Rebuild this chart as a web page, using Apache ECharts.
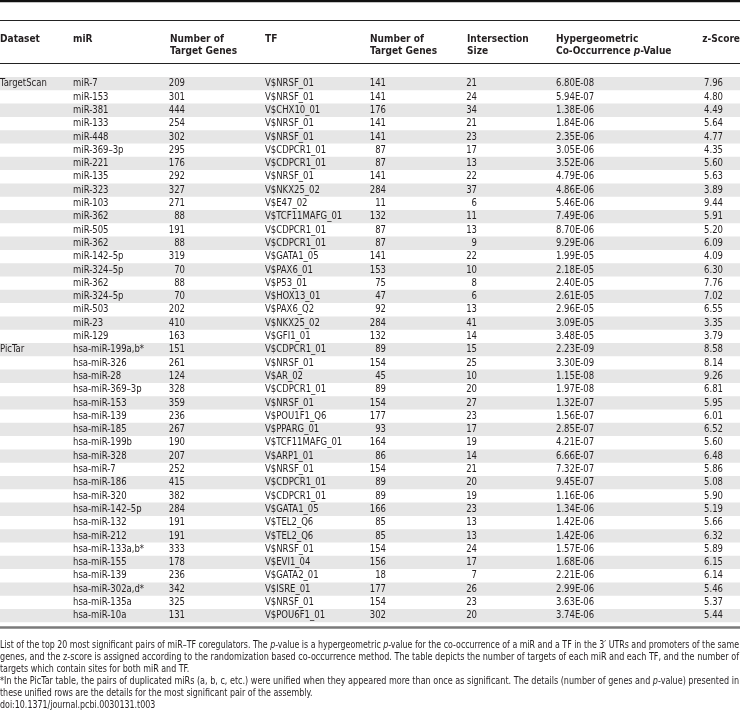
<!DOCTYPE html>
<html><head><meta charset="utf-8">
<script src="https://cdn.jsdelivr.net/npm/echarts@6/dist/echarts.min.js"></script>
<style>html,body{margin:0;padding:0;background:#fff}#c{width:740px;height:721px}</style>
</head><body><div id="c"></div>
<script>
// ---------------- DATA ----------------
const datasetLabels = ['TargetScan','','','','','','','','','','','','','','','','','','','',
  'PicTar','','','','','','','','','','','','','','','','','','','',''];
const mirs = ['miR-7','miR-153','miR-381','miR-133','miR-448','miR-369\u20133p','miR-221','miR-135','miR-323','miR-103',
  'miR-362','miR-505','miR-362','miR-142\u20135p','miR-324\u20135p','miR-362','miR-324\u20135p','miR-503','miR-23','miR-129',
  'hsa-miR-199a,b*','hsa-miR-326','hsa-miR-28','hsa-miR-369\u20133p','hsa-miR-153','hsa-miR-139','hsa-miR-185','hsa-miR-199b','hsa-miR-328','hsa-miR-7',
  'hsa-miR-186','hsa-miR-320','hsa-miR-142\u20135p','hsa-miR-132','hsa-miR-212','hsa-miR-133a,b*','hsa-miR-155','hsa-miR-139','hsa-miR-302a,d*','hsa-miR-135a','hsa-miR-10a'];
const mirTargets = [209,301,444,254,302,295,176,292,327,271,88,191,88,319,70,88,70,202,410,163,
  151,261,124,328,359,236,267,190,207,252,415,382,284,191,191,333,178,236,342,325,131];
const tfs = ['V$NRSF_01','V$NRSF_01','V$CHX10_01','V$NRSF_01','V$NRSF_01','V$CDPCR1_01','V$CDPCR1_01','V$NRSF_01','V$NKX25_02','V$E47_02',
  'V$TCF11MAFG_01','V$CDPCR1_01','V$CDPCR1_01','V$GATA1_05','V$PAX6_01','V$P53_01','V$HOX13_01','V$PAX6_Q2','V$NKX25_02','V$GFI1_01',
  'V$CDPCR1_01','V$NRSF_01','V$AR_02','V$CDPCR1_01','V$NRSF_01','V$POU1F1_Q6','V$PPARG_01','V$TCF11MAFG_01','V$ARP1_01','V$NRSF_01',
  'V$CDPCR1_01','V$CDPCR1_01','V$GATA1_05','V$TEL2_Q6','V$TEL2_Q6','V$NRSF_01','V$EVI1_04','V$GATA2_01','V$ISRE_01','V$NRSF_01','V$POU6F1_01'];
const tfTargets = [141,141,176,141,141,87,87,141,284,11,132,87,87,141,153,75,47,92,284,132,
  89,154,45,89,154,177,93,164,86,154,89,89,166,85,85,154,156,18,177,154,302];
const intersection = [21,24,34,21,23,17,13,22,37,6,11,13,9,22,10,8,6,13,41,14,
  15,25,10,20,27,23,17,19,14,21,20,19,23,13,13,24,17,7,26,23,20];
const pValues = ['6.80E-08','5.94E-07','1.38E-06','1.84E-06','2.35E-06','3.05E-06','3.52E-06','4.79E-06','4.86E-06','5.46E-06',
  '7.49E-06','8.70E-06','9.29E-06','1.99E-05','2.18E-05','2.40E-05','2.61E-05','2.96E-05','3.09E-05','3.48E-05',
  '2.23E-09','3.30E-09','1.15E-08','1.97E-08','1.32E-07','1.56E-07','2.85E-07','4.21E-07','6.66E-07','7.32E-07',
  '9.45E-07','1.16E-06','1.34E-06','1.42E-06','1.42E-06','1.57E-06','1.68E-06','2.21E-06','2.99E-06','3.63E-06','3.74E-06'];
const zScores = ['7.96','4.80','4.49','5.64','4.77','4.35','5.60','5.63','3.89','9.44','5.91','5.20','6.09','4.09','6.30','7.76','7.02','6.55','3.35','3.79',
  '8.58','8.14','9.26','6.81','5.95','6.01','6.52','5.60','6.48','5.86','5.08','5.90','5.19','5.66','6.32','5.89','6.15','6.14','5.46','5.37','5.44'];
const captionLines = [
  [['n','List of the top 20 most significant pairs of miR\u2013TF coregulators. The '],['i','p'],['n','-value is a hypergeometric '],['i','p'],['n','-value for the co-occurrence of a miR and a TF in the 3\u2032 UTRs and promoters of the same']],
  [['n','genes, and the z-score is assigned according to the randomization based co-occurrence method. The table depicts the number of targets of each miR and each TF, and the number of']],
  [['n','targets which contain sites for both miR and TF.']],
  [['n','*In the PicTar table, the pairs of duplicated miRs (a, b, c, etc.) were unified when they appeared more than once as significant. The details (number of genes and '],['i','p'],['n','-value) presented in']],
  [['n','these unified rows are the details for the most significant pair of the assembly.']],
  [['n','doi:10.1371/journal.pcbi.0030131.t003']]
];
const captionJustified = [true, true, false, true, false, false];

// ---------------- LAYOUT / STYLE ----------------
const mctx = document.createElement('canvas').getContext('2d');
function hasFont(f){const s='abcdefghijklmnopqrstuvwxyzABCDEFGHIJ0123456789';mctx.font='40px monospace';const a=mctx.measureText(s).width;mctx.font="40px '"+f+"', monospace";const b=mctx.measureText(s).width;return Math.abs(a-b)>0.5;}
let FAM, SX;
if (hasFont('Liberation Sans Narrow')) { FAM = "'Liberation Sans Narrow'"; SX = 1; }
else if (hasFont('DejaVu Sans Condensed')) { FAM = "'DejaVu Sans Condensed'"; SX = 0.9; }
else { FAM = "'Liberation Sans', Arial, sans-serif"; SX = 0.82; }
const W = 740, NROWS = mirs.length;
const ROW_TOP = 77, PITCH = 13.3;
const TXT = '#231f20', BAND = '#e6e6e6';
const FS = 10.5, HFS = 11.2, CFS = 9.8;
const COL = {ds:0, mir:73, mirT:185, tf:265, tfT:386, inter:477, p:556, z:723};
const HEAD = {num1:170, num2:370, inter:467};
const HEAD_Y1 = 39, HEAD_Y2 = 51;

const chart = echarts.init(document.getElementById('c'), null, {renderer:'canvas'});

function txt(x, y, text, opts) {
  opts = opts || {};
  return {type:'text', x:x, y:y, scaleX:SX, silent:true, z:10,
    style:Object.assign({text:text, fill:TXT, font:(opts.bold?'bold ':'')+(opts.size||FS)+'px '+FAM,
      align:opts.align||'left', verticalAlign:'middle', textAlign:opts.align||'left', textVerticalAlign:'middle'}, opts.style||{})};
}

const graphics = [];
// rules
graphics.push({type:'rect', shape:{x:0,y:0,width:W,height:2.2}, style:{fill:'#111'}, silent:true});
graphics.push({type:'rect', shape:{x:0,y:20,width:W,height:1}, style:{fill:'#222'}, silent:true});
graphics.push({type:'rect', shape:{x:0,y:63,width:W,height:1}, style:{fill:'#222'}, silent:true});
const bottomY = ROW_TOP + NROWS*PITCH + 4;
graphics.push({type:'rect', shape:{x:0,y:bottomY,width:W,height:2.5}, style:{fill:'#7a7a7a'}, silent:true});
// header
graphics.push(txt(COL.ds, HEAD_Y1, 'Dataset', {bold:true, size:HFS}));
graphics.push(txt(COL.mir, HEAD_Y1, 'miR', {bold:true, size:HFS}));
graphics.push(txt(HEAD.num1, HEAD_Y1, 'Number of', {bold:true, size:HFS}));
graphics.push(txt(HEAD.num1, HEAD_Y2, 'Target Genes', {bold:true, size:HFS}));
graphics.push(txt(COL.tf, HEAD_Y1, 'TF', {bold:true, size:HFS}));
graphics.push(txt(HEAD.num2, HEAD_Y1, 'Number of', {bold:true, size:HFS}));
graphics.push(txt(HEAD.num2, HEAD_Y2, 'Target Genes', {bold:true, size:HFS}));
graphics.push(txt(HEAD.inter, HEAD_Y1, 'Intersection', {bold:true, size:HFS}));
graphics.push(txt(HEAD.inter, HEAD_Y2, 'Size', {bold:true, size:HFS}));
graphics.push(txt(COL.p, HEAD_Y1, 'Hypergeometric', {bold:true, size:HFS}));
graphics.push({type:'text', x:COL.p, y:HEAD_Y2, scaleX:SX, silent:true, z:10,
  style:{text:'{b|Co-Occurrence }{bi|p}{b|-Value}', verticalAlign:'middle', textVerticalAlign:'middle',
    rich:{b:{font:'bold '+HFS+'px '+FAM, fill:TXT}, bi:{font:'italic bold '+HFS+'px '+FAM, fill:TXT}}}});
graphics.push(txt(W, HEAD_Y1, 'z-Score', {bold:true, size:HFS, align:'right'}));
// caption
const capTop = bottomY + 19, capPitch = 12;
const capFonts = {n: CFS+'px '+FAM, i: 'italic '+CFS+'px '+FAM};
captionLines.forEach((parts, k) => {
  const t = parts.map(p => '{'+p[0]+'|'+p[1]+'}').join('');
  let w = 0;
  parts.forEach(p => { mctx.font = capFonts[p[0]]; w += mctx.measureText(p[1]).width; });
  let sx = SX;
  if (captionJustified[k]) sx = (W - 1) / w; else if (w*SX > W) sx = (W-1)/w;
  graphics.push({type:'text', x:0, y:capTop + k*capPitch, scaleX:sx, silent:true, z:10,
    style:{text:t, verticalAlign:'middle', textVerticalAlign:'middle',
      rich:{n:{font:capFonts.n, fill:TXT}, i:{font:capFonts.i, fill:TXT}}}});
});

const rowIdx = mirs.map((_, i) => [i]);

chart.setOption({
  animation:false,
  grid:{left:0, right:0, top:ROW_TOP, height:NROWS*PITCH, containLabel:false},
  xAxis:{type:'value', min:0, max:W, show:false},
  yAxis:{type:'value', min:0, max:NROWS, inverse:true, show:false},
  series:[
    {type:'custom', z:1, silent:true, data:rowIdx.filter(r => r[0] % 2 === 0),
      renderItem:function(params, api){
        const i = api.value(0);
        const a = api.coord([0, i]), b = api.coord([W, i+1]);
        return {type:'rect', shape:{x:a[0], y:a[1], width:b[0]-a[0], height:b[1]-a[1]}, style:{fill:BAND}};
      }},
    {type:'custom', z:2, silent:true, data:rowIdx,
      renderItem:function(params, api){
        const i = api.value(0);
        const y = api.coord([0, i+0.5])[1];
        const X = v => api.coord([v, i])[0];
        const cells = [
          [datasetLabels[i], COL.ds, 'left'],
          [mirs[i], COL.mir, 'left'],
          [String(mirTargets[i]), COL.mirT, 'right'],
          [tfs[i], COL.tf, 'left'],
          [String(tfTargets[i]), COL.tfT, 'right'],
          [String(intersection[i]), COL.inter, 'right'],
          [pValues[i], COL.p, 'left'],
          [zScores[i], COL.z, 'right']
        ];
        return {type:'group', children:cells.map(c => ({type:'text', x:X(c[1]), y:y, scaleX:SX,
          style:{text:c[0], fill:TXT, font:FS+'px '+FAM, align:c[2], textAlign:c[2], verticalAlign:'middle', textVerticalAlign:'middle'}}))};
      }}
  ],
  graphic:graphics
});
</script></body></html>
